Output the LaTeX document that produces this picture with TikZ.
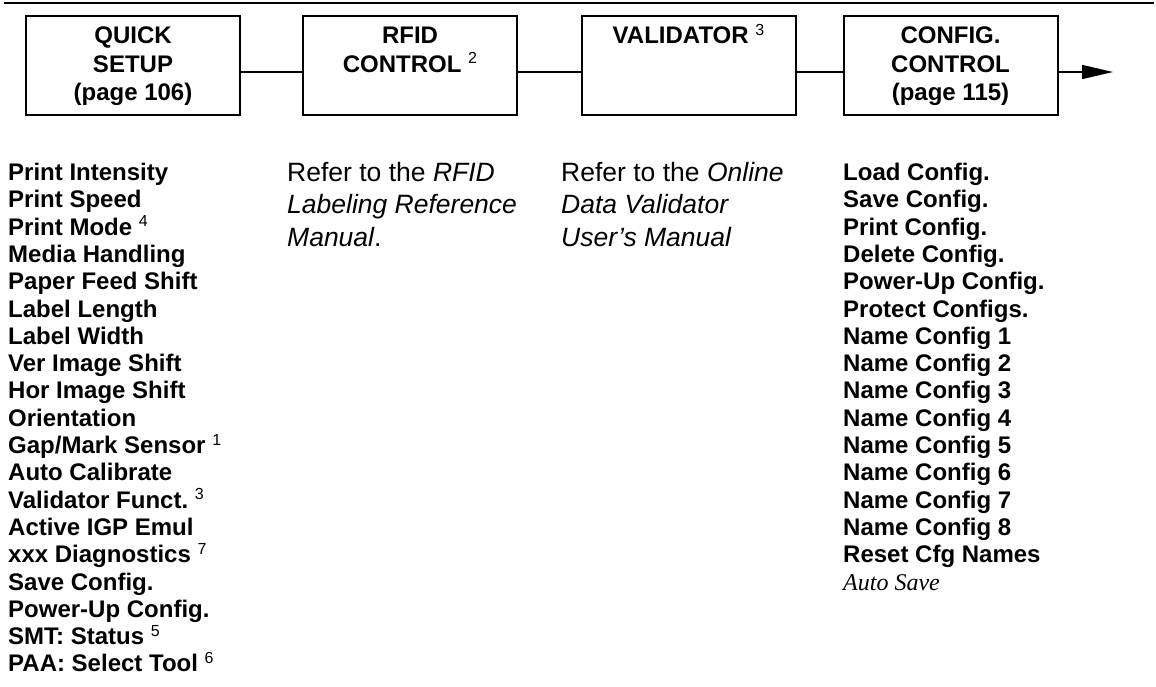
\documentclass[tikz,border=0pt]{standalone}
\usepackage{fontspec}
\setmainfont{Liberation Sans}
\newfontfamily\timesf{Liberation Serif}
\usetikzlibrary{arrows.meta}
\frenchspacing
\newcommand\supnum[1]{\raisebox{8.5pt}{\fontsize{16}{16}\selectfont\mdseries #1}}
\tikzset{
  menubox/.style={draw, line width=2pt, minimum width=214pt, minimum height=99pt, inner sep=0pt},
  btitle/.style={font=\fontsize{24}{28}\selectfont\bfseries, anchor=base, inner sep=0pt},
  item/.style={font=\fontsize{24}{27}\selectfont\bfseries, anchor=base west, inner sep=0pt},
  refer/.style={font=\fontsize{26.5}{32}\selectfont, anchor=base west, inner sep=0pt},
  link/.style={line width=1.5pt},
}
\begin{document}
\begin{tikzpicture}[x=1pt,y=-1pt]
\useasboundingbox (0,0) rectangle (1156,686);
% top rule
\coordinate (rl) at (4,3);
\coordinate (rr) at (1154,3);
\draw[line width=1.5pt] (rl) -- (rr);
% boxes
\node[menubox] (b1) at (133,65.5) {};
\node[menubox] (b2) at (410,65.5) {};
\node[menubox] (b3) at (688.5,65.5) {};
\node[menubox] (b4) at (950.5,65.5) {};
% box titles
\node[btitle] (t1a) at (133,43.5) {QUICK};
\node[btitle] (t1b) at (133,72) {SETUP};
\node[btitle] (t1c) at (133,100.5) {(page 106)};
\node[btitle] (t2a) at (410,43.5) {RFID};
\node[btitle] (t2b) at (410,72) {CONTROL \supnum{2}};
\node[btitle] (t3a) at (688.5,43.5) {VALIDATOR \supnum{3}};
\node[btitle] (t4a) at (950.5,43.5) {CONFIG.};
\node[btitle] (t4b) at (950.5,72) {CONTROL};
\node[btitle] (t4c) at (950.5,100.5) {(page 115)};
% connectors
\coordinate (cy) at (0,72);
\coordinate (aend) at (1113,72);
\draw[link] (b1.east |- cy) -- (b2.west |- cy);
\draw[link] (b2.east |- cy) -- (b3.west |- cy);
\draw[link] (b3.east |- cy) -- (b4.west |- cy);
\draw[link,-{Triangle[length=31pt,width=14pt]}] (b4.east |- cy) -- (aend);
% quick setup list
\foreach [count=\i from 0] \t in {Print Intensity, Print Speed, Print Mode \supnum{4}, Media Handling, Paper Feed Shift, Label Length, Label Width, Ver Image Shift, Hor Image Shift, Orientation, Gap/Mark Sensor \supnum{1}, Auto Calibrate, Validator Funct. \supnum{3}, Active IGP Emul, xxx Diagnostics \supnum{7}, Save Config., Power-Up Config., SMT: Status \supnum{5}, PAA: Select Tool \supnum{6}}
  \node[item] (q\i) at (8,{180.5+27.3*\i}) {\t};
% config list
\foreach [count=\i from 0] \t in {Load Config., Save Config., Print Config., Delete Config., Power-Up Config., Protect Configs., Name Config 1, Name Config 2, Name Config 3, Name Config 4, Name Config 5, Name Config 6, Name Config 7, Name Config 8, Reset Cfg Names}
  \node[item] (c\i) at (843,{180.5+27.3*\i}) {\t};
\node[item, font=\fontsize{24}{27}\selectfont\timesf\itshape] (cauto) at (843,{180.5+27.3*15}) {Auto Save};
% refer texts
\node[refer] (r1) at (287,181) {Refer to the \textit{RFID}};
\node[refer] (r2) at (287,213.5) {\textit{Labeling Reference}};
\node[refer] (r3) at (287,246) {\textit{Manual}.};
\node[refer] (v1) at (561,181) {Refer to the \textit{Online}};
\node[refer] (v2) at (561,213.5) {\textit{Data Validator}};
\node[refer] (v3) at (561,246) {\textit{User’s Manual}};
\end{tikzpicture}
\end{document}
